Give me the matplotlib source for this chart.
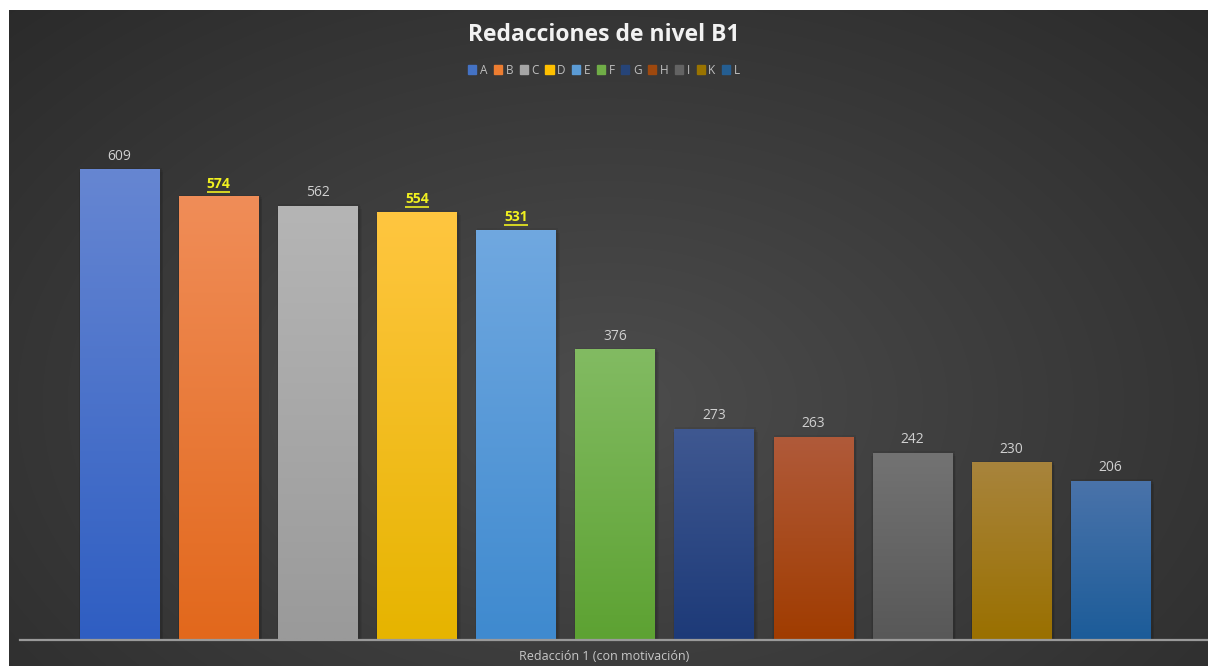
import numpy as np
import matplotlib
matplotlib.use("Agg")
import matplotlib.pyplot as plt
import matplotlib.transforms as mtransforms
from matplotlib.patches import Rectangle

plt.rcParams['font.family'] = ['Open Sans', 'DejaVu Sans']

# datos
categorias = ['A', 'B', 'C', 'D', 'E', 'F', 'G', 'H', 'I', 'K', 'L']
valores = [609, 574, 562, 554, 531, 376, 273, 263, 242, 230, 206]
destacados = ['B', 'D', 'E']
colores = ['#4472c4', '#ed7d31', '#a5a5a5', '#ffc000', '#5b9bd5', '#70ad47',
           '#264478', '#9e480e', '#636363', '#997300', '#255e91']
# degradado de cada barra (arriba, abajo)
arriba = ['#6686d2', '#f08d58', '#b5b5b5', '#ffc640', '#70a8e0', '#82bb62',
          '#3f5891', '#b05a3a', '#737373', '#a8843c', '#4a73aa']
abajo = ['#2f5ec2', '#e2681c', '#9a9a9a', '#e6b400', '#3f8acf', '#5da232',
         '#1d3a78', '#a03c00', '#585858', '#9a7000', '#1c5c99']

fig = plt.figure(figsize=(12.08, 6.66), dpi=100, facecolor='white')

# fondo con degradado radial
bg = fig.add_axes([9 / 1208, 0, 1 - 9 / 1208, 656 / 666])
yy, xx = np.mgrid[0:1:300j, 0:1:600j]
r = np.sqrt(((xx - 0.5) / 0.75) ** 2 + ((yy - 0.6) / 0.9) ** 2)
g = np.clip(0.30 - 0.14 * r, 0.16, 0.30)
bg.imshow(np.dstack([g, g, g]), aspect='auto', extent=(0, 1, 0, 1), interpolation='bilinear')
bg.set_axis_off()

ax = fig.add_axes([20 / 1208, 26 / 666, 1 - 20 / 1208, 540 / 666])
ax.patch.set_alpha(0)
x = np.arange(len(categorias))
ancho = 0.8

# sombras suaves
for i, v in enumerate(valores):
    for k, a in enumerate([0.06, 0.06, 0.06]):
        d = 0.015 * (k + 1)
        ax.add_patch(Rectangle((i - ancho / 2 - d / 2 + 0.01, 0), ancho + d + 0.01, v + 2 - 3 * k,
                               color='black', alpha=a, lw=0, zorder=1))

barras = ax.bar(x, valores, width=ancho, color=colores, zorder=2, linewidth=0)
for i, b in enumerate(barras):
    c1 = np.array(matplotlib.colors.to_rgb(arriba[i]))
    c2 = np.array(matplotlib.colors.to_rgb(abajo[i]))
    t = np.linspace(0, 1, 100)[:, None]
    img = (c1 * (1 - t) + c2 * t)[:, None, :]
    im = ax.imshow(img, aspect='auto', extent=(i - ancho / 2, i + ancho / 2, 0, valores[i]),
                   zorder=3, interpolation='bilinear')
    im.set_clip_path(b)

for i, v in enumerate(valores):
    if categorias[i] in destacados:
        ax.annotate(str(v), (i, v), xytext=(0, 4), textcoords='offset points',
                    ha='center', va='bottom', color='#f0f020', fontsize=10,
                    fontweight='bold', zorder=5)
        trans = mtransforms.offset_copy(ax.transData, fig=fig, x=0, y=3.3, units='points')
        ax.plot([i - 0.12, i + 0.12], [v, v], color='#f0f020', lw=1.2,
                transform=trans, zorder=5, solid_capstyle='butt')
    else:
        ax.annotate(str(v), (i, v), xytext=(0, 4), textcoords='offset points',
                    ha='center', va='bottom', color='#d0d0d0', fontsize=10, zorder=5)

ax.set_xlim(-1.004, 10.984)
ax.set_ylim(0, 698.6)
for s in ['top', 'right', 'left']:
    ax.spines[s].set_visible(False)
ax.spines['bottom'].set_color('#9a9a9a')
ax.spines['bottom'].set_linewidth(1.6)
ax.spines['bottom'].set_zorder(6)
ax.set_xticks([])
ax.set_yticks([])

fig.text(0.5, 1 - 35 / 666, 'Redacciones de nivel B1', ha='center', va='center',
         color='#f2f2f2', fontsize=16.5, fontweight='bold')
fig.text(0.5, 1 - 657 / 666, 'Redacción 1 (con motivación)', ha='center', va='center',
         color='#c8c8c8', fontsize=9)

handles = [Rectangle((0, 0), 1, 1, color=c) for c in colores]
leg = fig.legend(handles, categorias, loc='center', bbox_to_anchor=(0.5, 1 - 70 / 666),
                 ncol=len(categorias), frameon=False, fontsize=8.5, handlelength=0.7,
                 handleheight=0.7, handletextpad=0.3, columnspacing=0.55)
for txt in leg.get_texts():
    txt.set_color('#bfbfbf')

fig.savefig('out.png', dpi=100, facecolor='white')
